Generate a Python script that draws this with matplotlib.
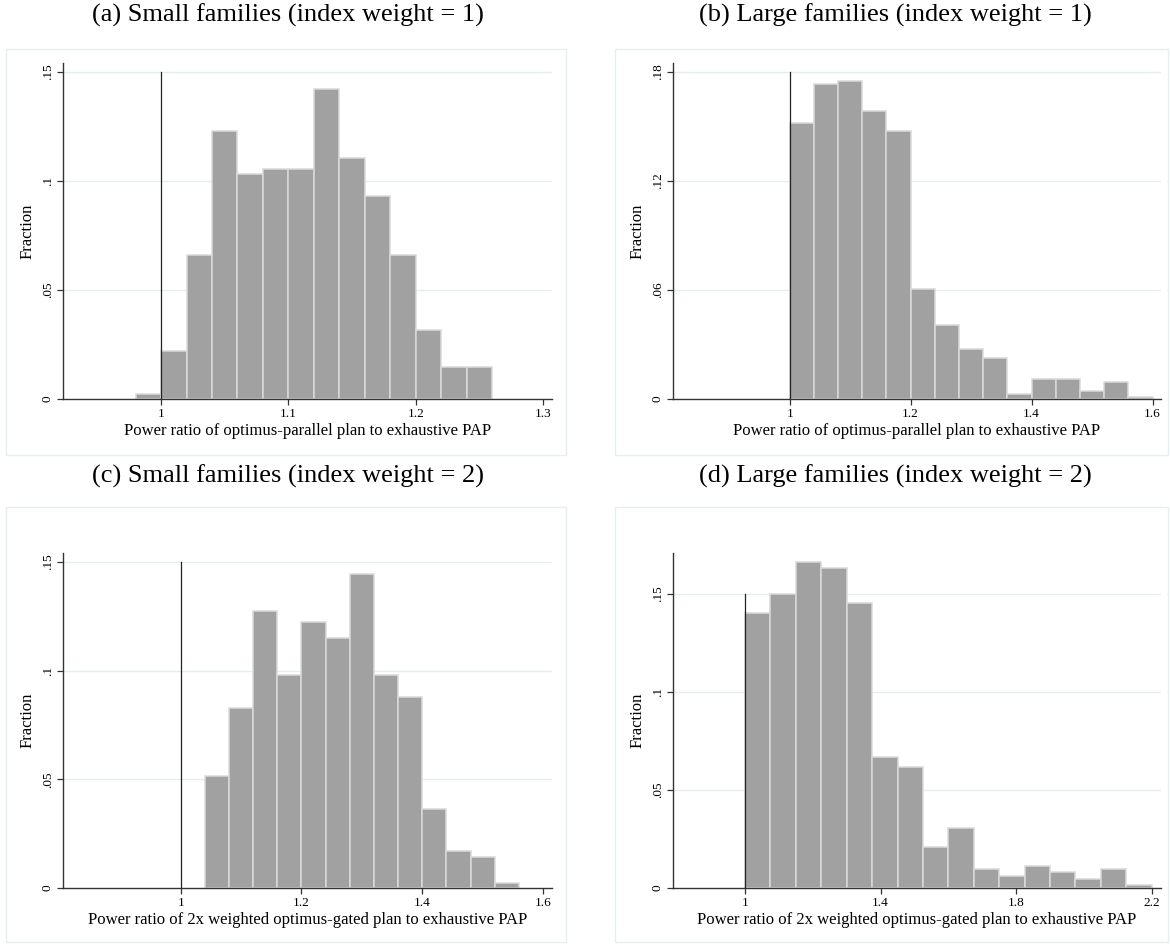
import matplotlib
matplotlib.use("Agg")
import matplotlib.pyplot as plt
from matplotlib.patches import Rectangle

# histogram data (fraction per bin)
a_start, a_width = 0.98, 0.02
a_frac = [0.0023, 0.0221, 0.0661, 0.1229, 0.1031, 0.1054, 0.1054,
          0.1422, 0.1104, 0.0931, 0.0661, 0.0317, 0.0146, 0.0146]

b_start, b_width = 1.0, 0.04
b_frac = [0.1518, 0.1736, 0.1750, 0.1587, 0.1474, 0.0604, 0.0409, 0.0278,
          0.0228, 0.0029, 0.0110, 0.0110, 0.0046, 0.0096, 0.0011]

c_start, c_width = 1.04, 0.04
c_frac = [0.0513, 0.0830, 0.1272, 0.0978, 0.1224, 0.1152, 0.1445,
          0.0978, 0.0879, 0.0365, 0.0169, 0.0144, 0.0021]

d_start, d_width = 1.0, 0.075
d_frac = [0.1401, 0.1500, 0.1663, 0.1631, 0.1452, 0.0667, 0.0617, 0.0209,
          0.0306, 0.0097, 0.0061, 0.0111, 0.0080, 0.0046, 0.0097, 0.0014]

titles = ["(a) Small families (index weight = 1)",
          "(b) Large families (index weight = 1)",
          "(c) Small families (index weight = 2)",
          "(d) Large families (index weight = 2)"]
xlab_top = "Power ratio of optimus-parallel plan to exhaustive PAP"
xlab_bot = "Power ratio of 2x weighted optimus-gated plan to exhaustive PAP"

a_xticks = [1, 1.1, 1.2, 1.3]
a_xlabels = ["1", "1.1", "1.2", "1.3"]
b_xticks = [1, 1.2, 1.4, 1.6]
b_xlabels = ["1", "1.2", "1.4", "1.6"]
c_xticks = [1, 1.2, 1.4, 1.6]
c_xlabels = ["1", "1.2", "1.4", "1.6"]
d_xticks = [1, 1.4, 1.8, 2.2]
d_xlabels = ["1", "1.4", "1.8", "2.2"]

a_yticks, a_ylabels = [0, 0.05, 0.1, 0.15], ["0", ".05", ".1", ".15"]
b_yticks, b_ylabels = [0, 0.06, 0.12, 0.18], ["0", ".06", ".12", ".18"]
c_yticks, c_ylabels = [0, 0.05, 0.1, 0.15], ["0", ".05", ".1", ".15"]
d_yticks, d_ylabels = [0, 0.05, 0.1, 0.15], ["0", ".05", ".1", ".15"]

W, H = 1170, 946
plt.rcParams['font.family'] = ['Liberation Serif', 'DejaVu Serif']

fig = plt.figure(figsize=(W / 100, H / 100), dpi=100)

FRAME = "#e6eff0"
GRID = "#e3eef0"
BAR = "#a1a1a1"
BAR_EDGE = "#dadada"


def px_axes(l, t, r, b):
    return fig.add_axes([l / W, 1 - b / H, (r - l) / W, (b - t) / H])


panels = [
    # frame (l, t, r, b), axes (l, t, r, b), title xy, xlim, ylim, vline top
    dict(frame=(6, 49, 566, 455), ax=(63, 63, 552, 399), tx=288, ty=15,
         xlim=(0.923, 1.307), ytop=0.1541, vtop=0.15,
         start=a_start, width=a_width, frac=a_frac,
         xt=a_xticks, xl=a_xlabels, yt=a_yticks, yl=a_ylabels, xlab=xlab_top),
    dict(frame=(615, 49, 1168, 455), ax=(673, 63, 1161, 399), tx=895, ty=15,
         xlim=(0.807, 1.614), ytop=0.185, vtop=0.18,
         start=b_start, width=b_width, frac=b_frac,
         xt=b_xticks, xl=b_xlabels, yt=b_yticks, yl=b_ylabels, xlab=xlab_top),
    dict(frame=(6, 507, 566, 942), ax=(63, 553, 552, 888), tx=288, ty=476,
         xlim=(0.805, 1.615), ytop=0.1541, vtop=0.15,
         start=c_start, width=c_width, frac=c_frac,
         xt=c_xticks, xl=c_xlabels, yt=c_yticks, yl=c_ylabels, xlab=xlab_bot),
    dict(frame=(615, 507, 1168, 942), ax=(673, 553, 1161, 888), tx=895, ty=476,
         xlim=(0.7875, 2.2275), ytop=0.1709, vtop=0.15,
         start=d_start, width=d_width, frac=d_frac,
         xt=d_xticks, xl=d_xlabels, yt=d_yticks, yl=d_ylabels, xlab=xlab_bot),
]

for i, p in enumerate(panels):
    fl, ft, fr, fb = p['frame']
    fig.patches.append(Rectangle((fl / W, 1 - fb / H), (fr - fl) / W, (fb - ft) / H,
                                 transform=fig.transFigure, fill=False,
                                 edgecolor=FRAME, linewidth=1.0))
    fig.text(p['tx'] / W, 1 - p['ty'] / H, titles[i], ha='center', va='center',
             fontsize=19)

    ax = px_axes(*p['ax'])
    lefts = [p['start'] + k * p['width'] for k in range(len(p['frac']))]
    ax.bar(lefts, p['frac'], width=p['width'], align='edge', color=BAR,
           edgecolor=BAR_EDGE, linewidth=1.1, zorder=2)
    ax.plot([1, 1], [0, p['vtop']], color='#222222', linewidth=0.9, zorder=3)

    ax.set_xlim(*p['xlim'])
    ax.set_ylim(0, p['ytop'])
    ax.set_xticks(p['xt'])
    ax.set_xticklabels(p['xl'])
    ax.set_yticks(p['yt'])
    ax.set_yticklabels(p['yl'], rotation=90, va='center')
    for y in p['yt'][1:]:
        ax.axhline(y, color=GRID, linewidth=1.0, zorder=1)

    for s in ['top', 'right']:
        ax.spines[s].set_visible(False)
    for s in ['left', 'bottom']:
        ax.spines[s].set_color('#333333')
        ax.spines[s].set_linewidth(1.0)
    ax.tick_params(axis='both', length=4.5, width=0.9, color='#333333',
                   labelsize=9.5, pad=2)
    ax.set_xlabel(p['xlab'], fontsize=12, labelpad=2)
    ax.set_ylabel("Fraction", fontsize=12, labelpad=5)
    ax.set_facecolor('none')

fig.savefig("out.png", dpi=100)
